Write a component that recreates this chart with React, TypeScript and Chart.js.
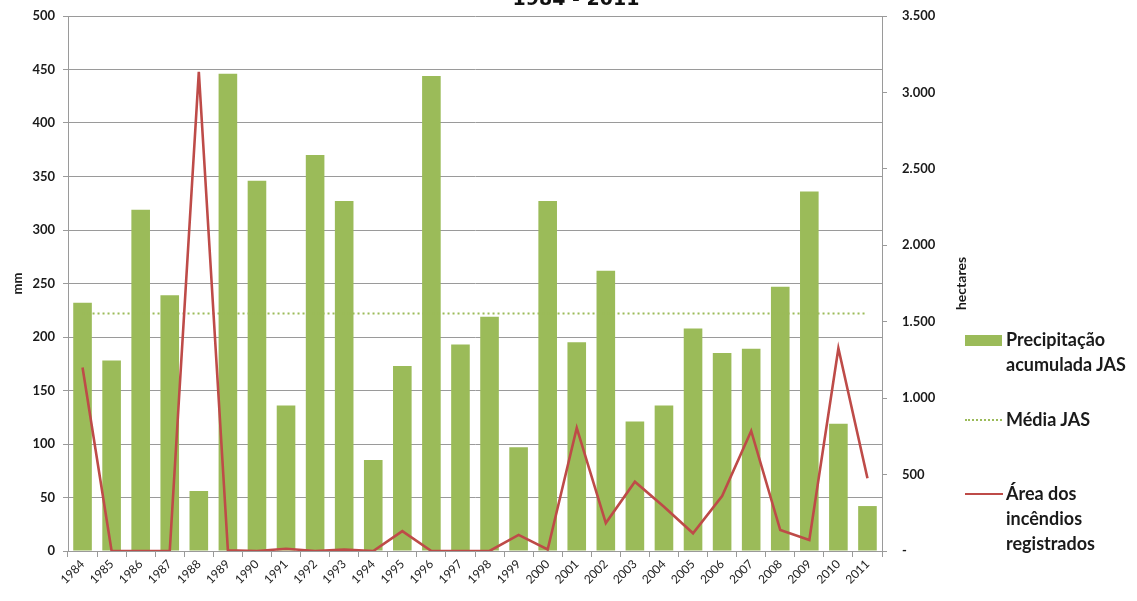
import React, { useEffect, useRef } from 'react';
import { Chart, registerables } from 'chart.js';

Chart.register(...registerables);

const years = ['1984','1985','1986','1987','1988','1989','1990','1991','1992','1993','1994','1995','1996','1997','1998','1999','2000','2001','2002','2003','2004','2005','2006','2007','2008','2009','2010','2011'];
const precipitacaoJAS = [232,178,319,239,56,446,346,136,370,327,85,173,444,193,219,97,327,195,262,121,136,208,185,189,247,336,119,42];
const mediaJAS = [222,222,222,222,222,222,222,222,222,222,222,222,222,222,222,222,222,222,222,222,222,222,222,222,222,222,222,222];
const areaIncendios = [1200,0,0,0,3135,5,0,15,0,10,0,130,0,0,0,105,10,805,183,453,290,116,360,785,137,72,1326,476];

const mmMax = 500;
const mmStep = 50;
const haMax = 3500;
const haStep = 500;

const W = 1137;
const H = 601;
const GREEN = '#9bbb59';
const RED = '#be4b48';
const GRID = '#9a9a9a';
const FONT = 'Lato, "Open Sans", sans-serif';

const fmtHa = (v: number) => (v === 0 ? '-' : String(v).replace(/\B(?=(\d{3})+(?!\d))/g, '.'));

const extras = {
  id: 'extras',
  afterDraw(chart: any) {
    const { ctx, chartArea } = chart;
    ctx.save();
    ctx.fillStyle = '#111';
    ctx.font = 'bold 19px "DejaVu Sans"';
    ctx.textAlign = 'center';
    ctx.textBaseline = 'alphabetic';
    ctx.fillText('1984 - 2011', 576, 5);
    ctx.translate(961, (chartArea.top + chartArea.bottom) / 2);
    ctx.rotate(-Math.PI / 2);
    ctx.font = 'bold 14px ' + FONT;
    ctx.textBaseline = 'middle';
    ctx.fillStyle = '#1a1a1a';
    ctx.fillText('hectares', 0, 0);
    ctx.restore();
  },
};

export default function App() {
  const ref = useRef<HTMLCanvasElement>(null);
  useEffect(() => {
    if (!ref.current) return;
    const chart = new Chart(ref.current, {
      type: 'bar',
      data: {
        labels: years,
        datasets: [
          {
            type: 'line',
            label: 'Área dos incêndios registrados',
            data: areaIncendios,
            yAxisID: 'y1',
            borderColor: RED,
            backgroundColor: RED,
            borderWidth: 2.6,
            pointRadius: 0,
            tension: 0,
            order: 0,
          } as any,
          {
            type: 'line',
            label: 'Média JAS',
            data: mediaJAS,
            yAxisID: 'y',
            borderColor: GREEN,
            borderWidth: 2,
            borderDash: [2, 3],
            pointRadius: 0,
            order: 1,
          } as any,
          {
            type: 'bar',
            label: 'Precipitação acumulada JAS',
            data: precipitacaoJAS,
            yAxisID: 'y',
            backgroundColor: GREEN,
            barPercentage: 0.64,
            categoryPercentage: 1,
            order: 2,
          },
        ],
      },
      options: {
        responsive: false,
        animation: false,
        layout: { padding: { left: 0, right: 175, top: 16, bottom: 0 } },
        plugins: { legend: { display: false }, tooltip: { enabled: false }, title: { display: false } },
        scales: {
          x: {
            grid: { offset: true, drawOnChartArea: false, drawTicks: true, tickLength: 6, color: GRID },
            border: { color: GRID },
            ticks: { minRotation: 45, maxRotation: 45, autoSkip: false, color: '#222', font: { family: FONT, size: 12 }, padding: 0 },
            afterFit: (s: any) => { s.height = 50; },
          },
          y: {
            position: 'left',
            min: 0,
            max: mmMax,
            ticks: { stepSize: mmStep, color: '#1a1a1a', font: { family: FONT, size: 13, weight: 'bold' }, padding: 8 },
            grid: { color: GRID, tickLength: 5 },
            border: { color: GRID },
            title: { display: true, text: 'mm', color: '#1a1a1a', font: { family: FONT, size: 13, weight: 'bold' }, padding: { top: 10, bottom: 0 } },
            afterFit: (s: any) => { s.width = 68; s.paddingTop = 0; s.paddingBottom = 0; },
          },
          y1: {
            position: 'right',
            min: 0,
            max: haMax,
            ticks: { stepSize: haStep, color: '#1a1a1a', font: { family: FONT, size: 13, weight: 'bold' }, padding: 15, callback: (v: any) => fmtHa(Number(v)) },
            grid: { drawOnChartArea: false, color: GRID, tickLength: 5 },
            border: { color: GRID },
            afterFit: (s: any) => { s.width = 80; s.paddingTop = 0; s.paddingBottom = 0; },
          },
        },
      },
      plugins: [extras],
    });
    return () => chart.destroy();
  }, []);

  const legendText: React.CSSProperties = { fontFamily: FONT, fontWeight: 'bold', fontSize: 18, color: '#1a1a1a', lineHeight: '25px' };
  return (
    <div style={{ position: 'fixed', left: 0, top: 0, width: W, height: H, background: '#fff' }}>
      <canvas ref={ref} width={W} height={H} />
      <div style={{ position: 'absolute', left: 965, top: 327, display: 'flex', alignItems: 'flex-start' }}>
        <div style={{ width: 37, height: 11, background: GREEN, marginTop: 8, marginRight: 4 }} />
        <div style={legendText}>Precipitação<br />acumulada JAS</div>
      </div>
      <div style={{ position: 'absolute', left: 965, top: 407, display: 'flex', alignItems: 'flex-start' }}>
        <div style={{ width: 37, height: 0, borderTop: '2px dotted ' + GREEN, marginTop: 12, marginRight: 4 }} />
        <div style={legendText}>Média JAS</div>
      </div>
      <div style={{ position: 'absolute', left: 965, top: 481, display: 'flex', alignItems: 'flex-start' }}>
        <div style={{ width: 38, height: 0, borderTop: '2.5px solid ' + RED, marginTop: 12, marginRight: 3 }} />
        <div style={legendText}>Área dos<br />incêndios<br />registrados</div>
      </div>
    </div>
  );
}
